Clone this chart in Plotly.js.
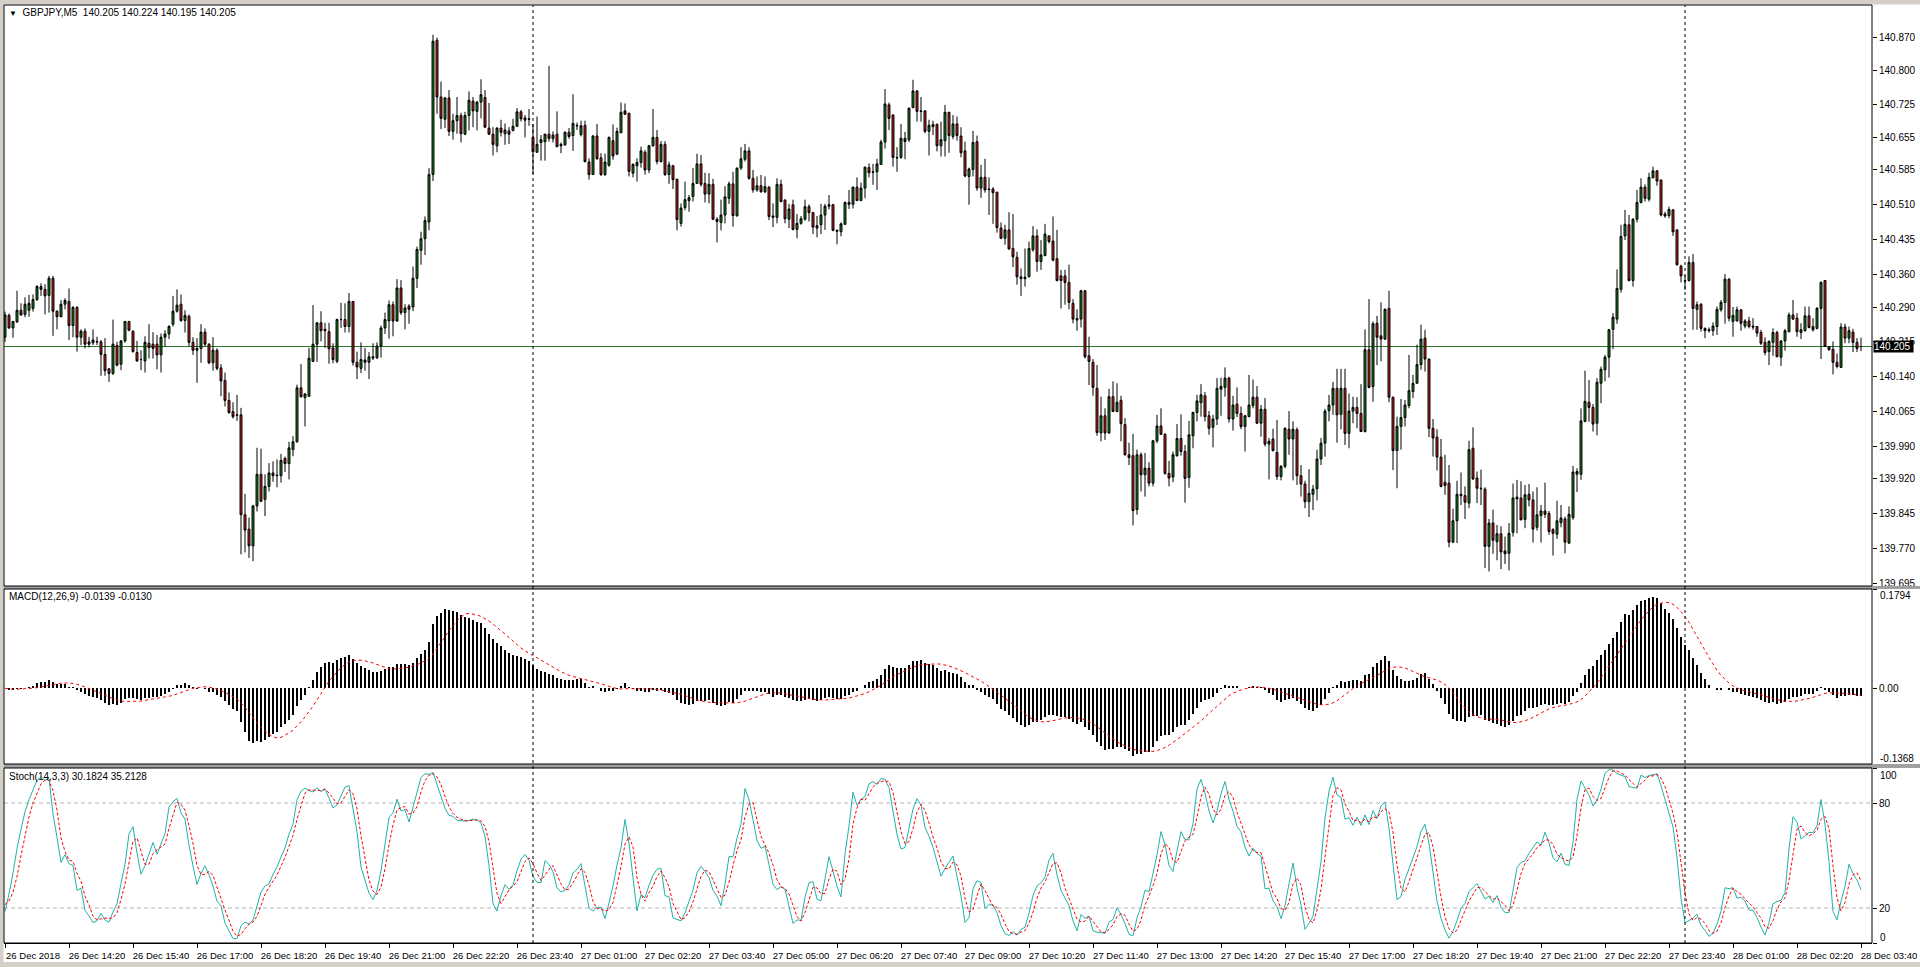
<!DOCTYPE html>
<html><head><meta charset="utf-8">
<script src="https://cdn.plot.ly/plotly-3.0.1.min.js"></script>
<style>html,body{margin:0;padding:0;background:#fff;overflow:hidden}#chart{width:1920px;height:967px}</style>
</head><body><div id="chart"></div>
<script>
// ---------------- DATA (GBPJPY M5, 26 Dec 2018 13:00 -> 28 Dec 2018 03:40) ----------------
const headerText = "GBPJPY,M5  140.205 140.224 140.195 140.205";
const macdText = "MACD(12,26,9) -0.0139 -0.0130";
const stochText = "Stoch(14,3,3) 30.1824 35.2128";

const open = [
140.225,140.272,140.245,140.258,140.283,140.274,140.283,140.287,140.306,140.334,
140.328,140.315,140.352,140.281,140.269,140.296,140.302,140.250,140.289,140.225,
140.238,140.215,140.213,140.216,140.215,140.188,140.157,140.147,140.207,140.167,
140.217,140.259,140.238,140.192,140.177,140.174,140.212,140.210,140.210,140.187,
140.225,140.232,140.253,140.281,140.296,140.261,140.270,140.214,140.197,140.201,
140.236,140.210,140.170,140.197,140.159,140.132,140.089,140.065,140.058,
140.058,139.843,139.812,139.776,139.862,139.930,139.876,139.904,139.933,139.927,
139.927,139.964,139.953,139.983,140.000,140.116,140.095,140.098,140.173,140.210,
140.256,140.242,140.237,140.202,140.173,140.263,140.263,140.248,140.302,140.171,
140.158,140.171,140.171,140.180,140.181,140.206,140.245,140.260,140.295,140.260,
140.331,140.278,140.292,140.290,140.352,140.412,140.437,140.473,140.575,140.864,
140.742,140.694,140.740,140.668,140.691,140.702,140.662,140.702,140.733,
140.711,140.731,140.741,140.675,140.662,140.637,140.675,140.663,140.669,140.670,
140.679,140.710,140.697,140.695,140.655,140.623,140.644,140.646,140.662,140.652,
140.662,140.640,140.639,140.666,140.659,140.681,140.661,140.681,140.602,140.575,
140.658,140.611,140.575,140.595,140.648,140.619,140.665,140.712,140.707,140.578,
140.594,140.601,140.623,140.585,140.637,140.655,140.603,140.640,140.575,140.594,
140.565,140.470,140.504,140.519,140.528,140.556,140.598,140.556,
140.533,140.554,140.479,140.472,140.488,140.524,140.555,140.486,140.589,140.608,
140.626,140.567,140.542,140.551,140.538,140.548,140.486,140.483,140.554,140.520,
140.479,140.510,140.457,140.470,140.479,140.506,140.493,140.465,140.467,140.488,
140.507,140.510,140.455,140.452,140.468,140.515,140.511,140.548,140.519,140.546,
140.590,140.581,140.581,140.597,140.645,140.725,140.703,140.612,140.612,140.653,
140.650,140.719,140.755,140.712,140.712,140.668,140.678,140.683,140.637,
140.648,140.709,140.657,140.684,140.658,140.626,140.571,140.586,140.646,140.546,
140.569,140.544,140.544,140.537,140.460,140.438,140.456,140.416,140.397,140.355,
140.351,140.355,140.413,140.443,140.388,140.401,140.443,140.432,140.394,140.357,
140.357,140.343,140.298,140.265,140.264,140.325,140.185,140.171,140.115,140.019,
140.056,140.019,140.097,140.065,140.089,140.037,139.972,139.970,139.854,139.972,
139.929,139.943,139.911,140.002,140.034,140.016,139.932,139.924,
139.970,140.007,139.979,139.923,140.013,140.063,140.084,140.099,140.056,140.031,
140.049,140.113,140.117,140.137,140.049,140.081,140.061,140.033,140.054,140.078,
140.096,140.040,140.070,139.995,140.006,139.977,139.925,139.947,140.027,140.006,
140.026,139.927,139.909,139.871,139.887,139.899,139.963,139.997,140.067,140.079,
140.115,140.059,140.115,140.018,140.066,140.074,140.061,140.022,140.198,140.119,
140.255,140.228,140.221,140.287,140.096,139.981,140.033,140.052,140.078,
140.108,140.126,140.166,140.223,140.178,140.029,140.010,139.967,139.913,139.911,
139.784,139.830,139.884,139.884,139.868,139.986,139.922,139.900,139.898,139.775,
139.825,139.785,139.802,139.765,139.760,139.805,139.877,139.879,139.833,139.887,
139.875,139.816,139.841,139.851,139.846,139.811,139.801,139.826,139.834,139.782,
139.837,139.930,139.930,140.044,140.085,140.074,140.040,140.126,140.155,140.182,
140.242,140.264,140.328,140.443,140.467,140.347,140.479,140.515,
140.548,140.522,140.568,140.583,140.563,140.490,140.487,140.499,140.456,140.378,
140.346,140.347,140.386,140.285,140.296,140.244,140.239,140.239,140.248,140.284,
140.300,140.350,140.259,140.260,140.284,140.249,140.260,140.249,140.248,140.235,
140.214,140.194,140.214,140.235,140.182,140.217,140.237,140.273,140.266,140.235,
140.239,140.271,140.248,140.244,140.287,140.347,140.205,140.199,140.171,140.160,
140.247,140.223,140.236,140.214,140.205];

const high = [
140.280,140.276,140.259,140.325,140.298,140.311,140.316,140.317,140.337,140.341,
140.339,140.357,140.357,140.283,140.305,140.309,140.330,140.292,140.292,140.242,
140.244,140.226,140.242,140.226,140.219,140.223,140.158,140.263,140.215,140.219,
140.259,140.260,140.240,140.217,140.197,140.227,140.253,140.236,140.230,140.233,
140.240,140.251,140.314,140.328,140.317,140.283,140.274,140.225,140.223,140.253,
140.244,140.212,140.225,140.201,140.167,140.149,140.106,140.085,140.101,
140.073,139.888,139.837,139.864,139.987,139.985,139.930,139.954,139.958,139.962,
139.974,139.968,140.000,140.012,140.123,140.167,140.104,140.202,140.294,140.257,
140.281,140.256,140.256,140.212,140.265,140.299,140.298,140.320,140.303,140.194,
140.214,140.202,140.193,140.212,140.214,140.250,140.278,140.304,140.302,140.350,
140.348,140.296,140.296,140.377,140.420,140.452,140.485,140.589,140.876,140.870,
140.775,140.742,140.757,140.706,140.742,140.708,140.710,140.754,140.742,
140.733,140.780,140.757,140.729,140.677,140.677,140.693,140.685,140.677,140.695,
140.718,140.714,140.703,140.716,140.684,140.700,140.660,140.662,140.809,140.668,
140.711,140.644,140.668,140.675,140.748,140.687,140.691,140.691,140.610,140.660,
140.684,140.621,140.620,140.657,140.683,140.676,140.730,140.728,140.708,140.599,
140.610,140.635,140.628,140.639,140.716,140.671,140.647,140.647,140.603,140.596,
140.566,140.513,140.560,140.531,140.589,140.620,140.617,140.579,
140.578,140.566,140.483,140.521,140.550,140.560,140.581,140.590,140.634,140.641,
140.634,140.585,140.571,140.574,140.571,140.550,140.513,140.567,140.564,140.522,
140.512,140.521,140.490,140.486,140.521,140.511,140.495,140.486,140.512,140.512,
140.531,140.512,140.457,140.472,140.517,140.542,140.549,140.569,140.558,140.592,
140.599,140.598,140.609,140.650,140.759,140.730,140.705,140.634,140.684,140.667,
140.719,140.779,140.757,140.742,140.714,140.693,140.691,140.685,140.689,
140.725,140.710,140.703,140.700,140.677,140.646,140.590,140.669,140.659,140.596,
140.609,140.569,140.548,140.538,140.472,140.467,140.494,140.490,140.409,140.373,
140.416,140.431,140.464,140.457,140.434,140.469,140.444,140.485,140.456,140.370,
140.370,140.381,140.307,140.285,140.327,140.327,140.226,140.178,140.165,140.097,
140.072,140.114,140.130,140.126,140.099,140.051,139.998,140.017,139.983,139.977,
139.976,139.956,140.004,140.058,140.072,140.019,139.959,139.979,
140.038,140.059,139.993,140.045,140.065,140.101,140.124,140.107,140.066,140.058,
140.137,140.138,140.160,140.140,140.099,140.117,140.076,140.058,140.144,140.134,
140.120,140.079,140.094,140.008,140.028,140.047,139.950,140.031,140.066,140.044,
140.031,139.950,139.916,139.941,139.907,139.983,140.008,140.071,140.101,140.129,
140.157,140.157,140.157,140.104,140.097,140.096,140.124,140.242,140.307,140.259,
140.271,140.300,140.287,140.325,140.097,140.054,140.092,140.090,140.187,
140.144,140.209,140.252,140.241,140.179,140.049,140.027,140.006,139.972,139.950,
139.856,139.916,139.934,139.904,140.002,140.031,139.936,139.940,139.902,139.834,
139.854,139.821,139.818,139.796,139.825,139.910,139.918,139.915,139.907,139.909,
139.893,139.902,139.864,139.912,139.851,139.814,139.873,139.864,139.839,139.861,
139.948,139.943,140.072,140.153,140.133,140.081,140.137,140.162,140.187,140.243,
140.277,140.371,140.467,140.499,140.488,140.481,140.542,140.567,
140.554,140.579,140.592,140.585,140.565,140.495,140.506,140.501,140.457,140.381,
140.359,140.399,140.404,140.302,140.298,140.246,140.246,140.257,140.291,140.305,
140.361,140.352,140.290,140.291,140.285,140.264,140.269,140.266,140.249,140.241,
140.225,140.218,140.244,140.239,140.219,140.243,140.278,140.305,140.277,140.255,
140.291,140.291,140.266,140.290,140.345,140.348,140.206,140.216,140.190,140.255,
140.254,140.248,140.243,140.223,140.224];

const low = [
140.215,140.243,140.224,140.256,140.271,140.268,140.269,140.280,140.303,140.314,
140.274,140.278,140.228,140.242,140.268,140.285,140.219,140.225,140.194,140.208,
140.201,140.203,140.208,140.208,140.142,140.142,140.129,140.144,140.162,140.154,
140.213,140.238,140.192,140.172,140.154,140.149,140.179,140.179,140.156,140.149,
140.205,140.221,140.248,140.278,140.258,140.235,140.205,140.187,140.127,140.170,
140.205,140.167,140.153,140.154,140.098,140.076,140.060,140.050,140.045,
139.758,139.762,139.750,139.743,139.850,139.870,139.840,139.893,139.914,139.902,
139.912,139.935,139.919,139.969,139.998,140.095,140.033,140.097,140.172,140.172,
140.216,140.202,140.168,140.169,140.169,140.245,140.235,140.235,140.164,140.135,
140.148,140.153,140.135,140.176,140.178,140.181,140.232,140.222,140.227,140.258,
140.273,140.242,140.254,140.281,140.331,140.381,140.402,140.455,140.561,140.706,
140.673,140.675,140.658,140.650,140.663,140.644,140.660,140.670,140.677,
140.670,140.696,140.675,140.660,140.616,140.623,140.657,140.639,140.641,140.668,
140.678,140.689,140.655,140.680,140.576,140.622,140.605,140.605,140.646,140.644,
140.634,140.621,140.637,140.652,140.626,140.671,140.657,140.601,140.564,140.575,
140.607,140.572,140.572,140.592,140.607,140.617,140.664,140.703,140.571,140.569,
140.560,140.590,140.575,140.578,140.635,140.597,140.601,140.572,140.555,140.544,
140.455,140.463,140.498,140.495,140.517,140.555,140.549,140.515,
140.513,140.477,140.429,140.455,140.470,140.512,140.463,140.485,140.585,140.603,
140.564,140.536,140.538,140.536,140.535,140.477,140.462,140.470,140.515,140.470,
140.460,140.455,140.438,140.467,140.476,140.474,140.447,140.440,140.447,140.456,
140.500,140.453,140.425,140.442,140.467,140.501,140.502,140.518,140.518,140.524,
140.569,140.553,140.542,140.596,140.631,140.671,140.592,140.581,140.609,140.608,
140.645,140.718,140.689,140.689,140.664,140.616,140.660,140.625,140.614,
140.614,140.622,140.651,140.648,140.612,140.569,140.510,140.571,140.540,140.525,
140.536,140.488,140.469,140.450,140.436,140.424,140.413,140.376,140.338,140.314,
140.334,140.354,140.409,140.366,140.370,140.399,140.427,140.388,140.345,140.287,
140.295,140.285,140.255,140.239,140.246,140.179,140.122,140.099,140.013,140.001,
140.004,140.017,140.064,140.064,140.001,139.970,139.950,139.820,139.843,139.893,
139.882,139.904,139.904,139.997,140.015,139.929,139.904,139.913,
139.968,139.970,139.869,139.901,139.986,140.044,140.054,140.044,140.015,139.988,
140.036,140.056,140.097,140.041,140.024,140.053,140.027,139.979,140.053,140.072,
140.038,140.011,139.990,139.919,139.979,139.918,139.917,139.943,139.972,139.917,
139.907,139.882,139.857,139.838,139.853,139.874,139.950,139.968,140.044,140.058,
139.998,140.027,139.993,139.986,140.040,140.029,140.021,140.020,140.115,140.086,
140.165,140.173,140.219,140.085,139.939,139.900,139.983,140.033,140.072,
140.094,140.125,140.155,140.151,140.010,139.968,139.938,139.902,139.886,139.773,
139.782,139.782,139.864,139.834,139.857,139.918,139.868,139.864,139.728,139.721,
139.759,139.745,139.726,139.737,139.723,139.796,139.803,139.831,139.814,139.861,
139.783,139.809,139.783,139.836,139.800,139.755,139.791,139.816,139.760,139.780,
139.832,139.892,139.918,140.042,140.043,140.022,140.014,140.083,140.130,140.138,
140.199,140.254,140.321,140.434,140.345,140.334,140.472,140.513,
140.517,140.517,140.567,140.551,140.485,140.482,140.481,140.443,140.379,140.343,
140.327,140.345,140.241,140.241,140.237,140.223,140.235,140.228,140.230,140.280,
140.254,140.259,140.226,140.259,140.239,140.244,140.244,140.241,140.226,140.208,
140.186,140.165,140.185,140.182,140.163,140.196,140.235,140.262,140.226,140.221,
140.237,140.244,140.237,140.242,140.178,140.204,140.196,140.145,140.158,140.159,
140.212,140.212,140.193,140.193,140.195];

const close = [
140.273,140.245,140.259,140.283,140.273,140.296,140.298,140.306,140.334,140.328,
140.314,140.352,140.281,140.269,140.296,140.304,140.250,140.289,140.225,140.238,
140.210,140.210,140.219,140.215,140.188,140.153,140.147,140.210,140.165,140.217,
140.259,140.240,140.194,140.174,140.177,140.214,140.203,140.201,140.187,140.225,
140.232,140.248,140.281,140.294,140.261,140.272,140.214,140.197,140.201,140.236,
140.210,140.170,140.197,140.158,140.131,140.089,140.063,140.054,140.057,
139.843,139.810,139.776,139.862,139.930,139.872,139.904,139.933,139.927,139.928,
139.960,139.953,139.987,140.000,140.116,140.097,140.103,140.180,140.210,140.256,
140.239,140.239,140.200,140.177,140.263,140.263,140.248,140.302,140.171,140.161,
140.177,140.176,140.183,140.183,140.206,140.245,140.263,140.295,140.260,140.331,
140.278,140.288,140.285,140.352,140.414,140.437,140.476,140.575,140.862,140.742,
140.696,140.740,140.668,140.691,140.702,140.663,140.702,140.735,140.712,
140.731,140.747,140.677,140.662,140.640,140.675,140.666,140.671,140.662,140.679,
140.710,140.695,140.692,140.694,140.624,140.640,140.650,140.662,140.653,140.660,
140.635,140.637,140.666,140.657,140.685,140.680,140.680,140.603,140.575,140.658,
140.609,140.575,140.602,140.655,140.615,140.668,140.709,140.705,140.582,140.597,
140.601,140.626,140.585,140.637,140.655,140.603,140.640,140.575,140.596,140.564,
140.478,140.503,140.521,140.525,140.556,140.598,140.554,140.533,
140.554,140.479,140.474,140.488,140.527,140.555,140.487,140.589,140.609,140.626,
140.567,140.542,140.551,140.538,140.549,140.485,140.483,140.554,140.517,140.480,
140.501,140.457,140.470,140.480,140.506,140.493,140.462,140.460,140.488,140.507,
140.510,140.455,140.453,140.469,140.515,140.511,140.548,140.519,140.546,140.591,
140.579,140.580,140.598,140.645,140.727,140.696,140.612,140.611,140.653,140.646,
140.718,140.755,140.711,140.711,140.668,140.681,140.683,140.637,140.650,
140.709,140.659,140.684,140.659,140.622,140.572,140.587,140.644,140.546,140.569,
140.542,140.543,140.536,140.461,140.438,140.456,140.415,140.398,140.355,140.351,
140.354,140.416,140.443,140.388,140.402,140.447,140.431,140.391,140.347,140.347,
140.343,140.300,140.264,140.262,140.325,140.183,140.173,140.117,140.020,140.056,
140.019,140.097,140.065,140.085,140.039,139.972,139.966,139.852,139.972,139.929,
139.943,139.911,140.002,140.034,140.016,139.932,139.922,139.972,
140.007,139.979,139.921,140.015,140.063,140.088,140.101,140.054,140.029,140.049,
140.115,140.119,140.137,140.049,140.079,140.061,140.033,140.056,140.079,140.096,
140.040,140.070,139.995,140.001,139.981,139.925,139.947,140.029,140.006,140.027,
139.927,139.909,139.871,139.889,139.898,139.963,139.997,140.066,140.079,140.115,
140.058,140.115,140.018,140.066,140.074,140.061,140.022,140.198,140.117,140.254,
140.225,140.221,140.285,140.096,139.981,140.033,140.052,140.079,140.110,
140.126,140.166,140.221,140.178,140.029,140.008,139.967,139.904,139.906,139.784,
139.830,139.887,139.887,139.870,139.983,139.920,139.900,139.899,139.775,139.825,
139.788,139.802,139.763,139.759,139.803,139.879,139.881,139.832,139.886,139.875,
139.812,139.843,139.851,139.844,139.807,139.803,139.830,139.836,139.784,139.844,
139.935,139.936,140.045,140.087,140.074,140.038,140.128,140.156,140.182,140.241,
140.268,140.330,140.442,140.468,140.347,140.479,140.515,140.548,
140.524,140.569,140.583,140.561,140.488,140.486,140.500,140.452,140.381,140.357,
140.347,140.386,140.287,140.295,140.244,140.239,140.241,140.249,140.285,140.300,
140.350,140.266,140.272,140.284,140.255,140.260,140.248,140.247,140.234,140.212,
140.192,140.216,140.235,140.183,140.217,140.239,140.273,140.264,140.237,140.241,
140.271,140.246,140.241,140.287,140.343,140.205,140.198,140.171,140.162,140.247,
140.223,140.239,140.214,140.201,140.205];

// Stochastic values of the first bars (their 14-bar look-back lies before the visible data)
const stochKStart = [18, 28, 40, 54, 65, 75, 82, 88, 93, 95, 93, 94];
const stochDStart = [22, 24, 29, 38, 50, 62, 72, 80, 86, 91, 93, 93];

const timeLabels = ["26 Dec 2018","26 Dec 14:20","26 Dec 15:40","26 Dec 17:00","26 Dec 18:20","26 Dec 19:40",
"26 Dec 21:00","26 Dec 22:20","26 Dec 23:40","27 Dec 01:00","27 Dec 02:20","27 Dec 03:40","27 Dec 05:00",
"27 Dec 06:20","27 Dec 07:40","27 Dec 09:00","27 Dec 10:20","27 Dec 11:40","27 Dec 13:00","27 Dec 14:20",
"27 Dec 15:40","27 Dec 17:00","27 Dec 18:20","27 Dec 19:40","27 Dec 21:00","27 Dec 22:20","27 Dec 23:40",
"28 Dec 01:00","28 Dec 02:20","28 Dec 03:40"];
const barsPerLabel = 16;
const priceTicks = [140.870,140.800,140.725,140.655,140.585,140.510,140.435,140.360,140.290,140.215,
140.140,140.065,139.990,139.920,139.845,139.770,139.695];
const bidPrice = 140.205;
const macdScale = [-0.1368, 0.1794];
const stochScale = [0, 100];
const stochLevels = [20, 80];
const daySeparators = [132, 420];   // bar index of 27 Dec 00:00 and 28 Dec 00:00

// ---------------- INDICATORS (standard definitions applied to the candles) ----------------
const idx = close.map((_, i) => i);
function ema(src, p) { const k = 2 / (p + 1); const out = []; let e = src[0];
  src.forEach((v, i) => { e = i === 0 ? v : v * k + e * (1 - k); out.push(e); }); return out; }
function sma(src, p) { return src.map((_, i) => { const s = Math.max(0, i - p + 1); let t = 0;
  for (let j = s; j <= i; j++) t += src[j]; return t / (i - s + 1); }); }
const e12 = ema(close, 12), e26 = ema(close, 26);
const macd = e12.map((v, i) => v - e26[i]);
const macdSignal = sma(macd, 9);
const LL = low.map((_, i) => Math.min(...low.slice(Math.max(0, i - 13), i + 1)));
const HH = high.map((_, i) => Math.max(...high.slice(Math.max(0, i - 13), i + 1)));
const stochKCalc = close.map((_, i) => { let num = 0, den = 0;
  for (let j = Math.max(0, i - 2); j <= i; j++) { num += close[j] - LL[j]; den += HH[j] - LL[j]; }
  return den === 0 ? 50 : 100 * num / den; });
const stochK = stochKCalc.map((v, i) => i < stochKStart.length ? stochKStart[i] : v);
const stochDCalc = sma(stochK, 3);
const stochD = stochDCalc.map((v, i) => i < stochDStart.length ? stochDStart[i] : v);

// ---------------- LAYOUT GEOMETRY ----------------
const W = 1920, H = 967;
const M = {l: 4, r: 48, t: 5, b: 24};
const plotTop = M.t, plotBottom = H - M.b, ph = plotBottom - plotTop, pw = W - M.l - M.r;
const py = p => (plotBottom - p) / ph;      // pixel row -> paper y
const px = p => (p - M.l) / pw;             // pixel col -> paper x
const mainDom = [py(586), 1];
const macdDom = [py(764), py(589)];
const stochDom = [0, py(768)];
const pxPerUnit = (583.5 - 37.5) / (140.870 - 139.695);
const mainRange = [139.695 - (586 - 583.5) / pxPerUnit, 140.870 + (37.5 - 5) / pxPerUnit];

const FONT = 'Liberation Sans, Arial, sans-serif';
const tickFont = {family: FONT, size: 10, color: '#000'};

const traces = [
  {type: 'candlestick', x: idx, open: open, high: high, low: low, close: close,
   xaxis: 'x', yaxis: 'y', whiskerwidth: 0, hoverinfo: 'skip',
   increasing: {line: {color: '#000', width: 1}, fillcolor: '#1a801a'},
   decreasing: {line: {color: '#000', width: 1}, fillcolor: '#cc1c1c'}},
  {type: 'bar', x: idx, y: macd, xaxis: 'x', yaxis: 'y2', width: 0.5,
   marker: {color: '#000', line: {width: 0}}, hoverinfo: 'skip'},
  {type: 'scatter', mode: 'lines', x: idx, y: macdSignal, xaxis: 'x', yaxis: 'y2',
   line: {color: '#ff0000', width: 1, dash: 'dot'}, hoverinfo: 'skip'},
  {type: 'scatter', mode: 'lines', x: idx, y: stochK, xaxis: 'x', yaxis: 'y3',
   line: {color: '#20b2aa', width: 1}, hoverinfo: 'skip'},
  {type: 'scatter', mode: 'lines', x: idx, y: stochD, xaxis: 'x', yaxis: 'y3',
   line: {color: '#ff0000', width: 1, dash: '3px,2px'}, hoverinfo: 'skip'}
];

const shapes = [];
// chrome strips
shapes.push({type: 'rect', xref: 'paper', yref: 'paper', x0: px(0), x1: px(W), y0: py(0), y1: py(4.5), fillcolor: '#d4d0c8', line: {width: 0}, layer: 'above'});
shapes.push({type: 'rect', xref: 'paper', yref: 'paper', x0: px(0), x1: px(3.5), y0: py(H), y1: py(0), fillcolor: '#d4d0c8', line: {width: 0}, layer: 'above'});
shapes.push({type: 'rect', xref: 'paper', yref: 'paper', x0: px(0), x1: px(W), y0: py(H), y1: py(962), fillcolor: '#d4d0c8', line: {width: 0}, layer: 'above'});
// splitters between panels
shapes.push({type: 'rect', xref: 'paper', yref: 'paper', x0: px(3.5), x1: px(W), y0: macdDom[1], y1: mainDom[0], fillcolor: '#a0a0a0', line: {width: 0}, layer: 'above'});
shapes.push({type: 'rect', xref: 'paper', yref: 'paper', x0: px(3.5), x1: px(W), y0: stochDom[1], y1: macdDom[0], fillcolor: '#a0a0a0', line: {width: 0}, layer: 'above'});
// stochastic levels
stochLevels.forEach(v => shapes.push({type: 'line', xref: 'paper', yref: 'y3', x0: 0, x1: 1, y0: v, y1: v,
  line: {color: '#b4b4b4', width: 1, dash: '4px,3px'}, layer: 'below'}));
// bid line
shapes.push({type: 'line', xref: 'paper', yref: 'y', x0: 0, x1: 1, y0: bidPrice, y1: bidPrice,
  line: {color: '#2a7a2a', width: 1}, layer: 'below'});
// day separators
daySeparators.forEach(b => shapes.push({type: 'line', xref: 'x', yref: 'paper', x0: b, x1: b, y0: 0, y1: 1,
  line: {color: '#000', width: 1, dash: '3px,3px'}, layer: 'above'}));
// panel frames
[mainDom, macdDom, stochDom].forEach(d => shapes.push({type: 'rect', xref: 'paper', yref: 'paper',
  x0: 0, x1: 1, y0: d[0], y1: d[1], line: {color: '#000', width: 1}, fillcolor: 'rgba(0,0,0,0)', layer: 'above'}));

const ann = (o) => Object.assign({showarrow: false, font: tickFont}, o);
const annotations = [
  ann({xref: 'paper', yref: 'paper', x: px(7), y: py(12), xanchor: 'left', yanchor: 'middle',
       text: '<span style="font-size:8px">\u25BC</span>  ' + headerText}),
  ann({xref: 'paper', yref: 'paper', x: px(7), y: py(597), xanchor: 'left', yanchor: 'middle', text: macdText}),
  ann({xref: 'paper', yref: 'paper', x: px(7), y: py(776), xanchor: 'left', yanchor: 'middle', text: stochText}),
  ann({xref: 'paper', yref: 'y2', x: 1, xshift: 6, y: macdScale[1], yshift: -7, xanchor: 'left', yanchor: 'middle', text: macdScale[1].toFixed(4)}),
  ann({xref: 'paper', yref: 'y2', x: 1, xshift: 6, y: macdScale[0], yshift: 5, xanchor: 'left', yanchor: 'middle', text: macdScale[0].toFixed(4)}),
  ann({xref: 'paper', yref: 'y3', x: 1, xshift: 6, y: stochScale[1], yshift: -7, xanchor: 'left', yanchor: 'middle', text: String(stochScale[1])}),
  ann({xref: 'paper', yref: 'y3', x: 1, xshift: 6, y: stochScale[0], yshift: 6, xanchor: 'left', yanchor: 'middle', text: String(stochScale[0])}),
  ann({xref: 'paper', yref: 'y', x: 1, xshift: 1, y: bidPrice, xanchor: 'left', yanchor: 'middle',
       text: bidPrice.toFixed(3) + ' ', bgcolor: '#000', borderpad: 0, font: {family: FONT, size: 10, color: '#fff'}})
];

const layout = {
  width: W, height: H, margin: M, paper_bgcolor: '#fff', plot_bgcolor: '#fff',
  showlegend: false, hovermode: false, bargap: 0,
  font: tickFont,
  xaxis: {anchor: 'y3', range: [-0.25, pw / 4 - 0.25], showgrid: false, zeroline: false,
          rangeslider: {visible: false}, tickmode: 'array',
          tickvals: timeLabels.map((_, k) => k * barsPerLabel), ticktext: timeLabels,
          ticks: 'outside', ticklen: 4, tickcolor: '#000', tickangle: 0, ticklabelshift: 28,
          ticklabeloverflow: 'allow',
          showline: true, linecolor: '#000', tickfont: {family: FONT, size: 9.5, color: '#000'}},
  yaxis: {domain: mainDom, range: mainRange, side: 'right', anchor: 'x', showgrid: false, zeroline: false,
          tickmode: 'array', tickvals: priceTicks, ticktext: priceTicks.map(v => v.toFixed(3)),
          ticks: 'outside', ticklen: 4, tickcolor: '#000', tickfont: tickFont},
  yaxis2: {domain: macdDom, range: macdScale, side: 'right', anchor: 'x', showgrid: false, zeroline: false,
           tickmode: 'array', tickvals: [macdScale[1], 0, macdScale[0]], ticktext: ['', '0.00', ''],
           ticks: 'outside', ticklen: 4, tickcolor: '#000', tickfont: tickFont},
  yaxis3: {domain: stochDom, range: stochScale, side: 'right', anchor: 'x', showgrid: false, zeroline: false,
           tickmode: 'array', tickvals: [100, 80, 20, 0], ticktext: ['', '80', '20', ''],
           ticks: 'outside', ticklen: 4, tickcolor: '#000', tickfont: tickFont},
  shapes: shapes, annotations: annotations
};

Plotly.newPlot('chart', traces, layout, {staticPlot: true, displayModeBar: false});
</script></body></html>
